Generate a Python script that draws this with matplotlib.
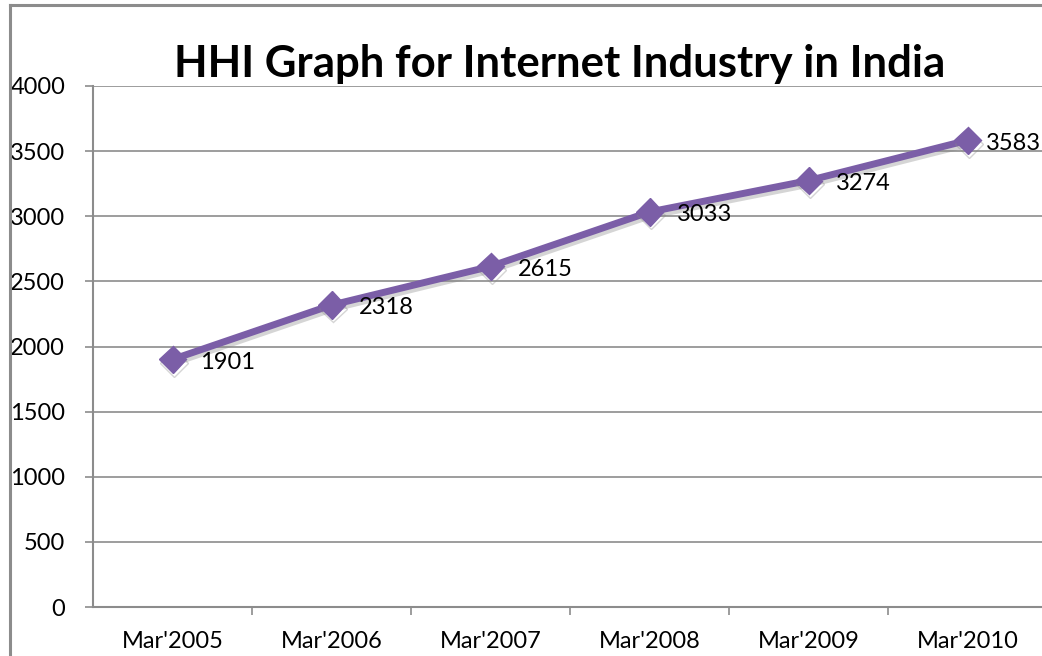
import matplotlib
matplotlib.use("Agg")
import matplotlib.pyplot as plt
import matplotlib.patheffects as pe
from matplotlib.lines import Line2D

categories = ["Mar'2005", "Mar'2006", "Mar'2007", "Mar'2008", "Mar'2009", "Mar'2010"]
hhi_values = [1901, 2318, 2615, 3033, 3274, 3583]
y_ticks = [0, 500, 1000, 1500, 2000, 2500, 3000, 3500, 4000]

plt.rcParams['font.family'] = ['Lato', 'DejaVu Sans']

W, H = 1042, 656
fig = plt.figure(figsize=(W / 100, H / 100), dpi=100)

# outer chart frame (partially visible)
fig.add_artist(Line2D([10 / W, 10 / W], [0, 1 - 5 / H], color='#8c8c8c', lw=2.2, transform=fig.transFigure))
fig.add_artist(Line2D([10 / W, 1], [1 - 5 / H, 1 - 5 / H], color='#8c8c8c', lw=2.2, transform=fig.transFigure))

left, right, top, bottom = 93, 1047, 86, 607
ax = fig.add_axes([left / W, 1 - bottom / H, (right - left) / W, (bottom - top) / H])

x = list(range(len(categories)))
color = '#7B5EA7'
ax.plot(x, hhi_values, color=color, lw=5, marker='D', markersize=14, markeredgecolor=color,
        markerfacecolor=color, zorder=3, solid_capstyle='round',
        path_effects=[pe.SimpleLineShadow(offset=(1, -2.5), shadow_color='#888888', alpha=0.35), pe.Normal()])

for xi, v in zip(x, hhi_values):
    dx = 20 if xi < len(x) - 1 else 13
    ax.annotate(str(v), (xi, v), xytext=(dx, -2), textcoords='offset points',
                ha='left', va='center', fontsize=17, color='black', zorder=4,
                annotation_clip=False)

ax.set_xlim(-0.5, len(categories) - 0.5)
ax.set_ylim(0, 4000)
ax.set_yticks(y_ticks)
ax.set_yticklabels([str(t) for t in y_ticks], fontsize=17)
ax.set_xticks(x)
ax.set_xticklabels(categories, fontsize=17)
ax.set_xticks([i + 0.5 for i in range(len(categories) - 1)], minor=True)

ax.grid(axis='y', color='#8c8c8c', lw=1.2)
ax.set_axisbelow(True)
for s in ['top', 'right']:
    ax.spines[s].set_visible(False)
for s in ['left', 'bottom']:
    ax.spines[s].set_color('#8c8c8c')
    ax.spines[s].set_linewidth(1.5)

ax.tick_params(axis='y', length=6, width=1.2, color='#8c8c8c', pad=14)
ax.tick_params(axis='x', which='major', length=0, pad=17)
ax.tick_params(axis='x', which='minor', length=6, width=1.2, color='#8c8c8c')

fig.text(560 / W, 1 - 64 / H, "HHI Graph for Internet Industry in India", ha='center', va='center',
         fontsize=31.5, fontweight='bold')

fig.savefig('out.png', dpi=100)
